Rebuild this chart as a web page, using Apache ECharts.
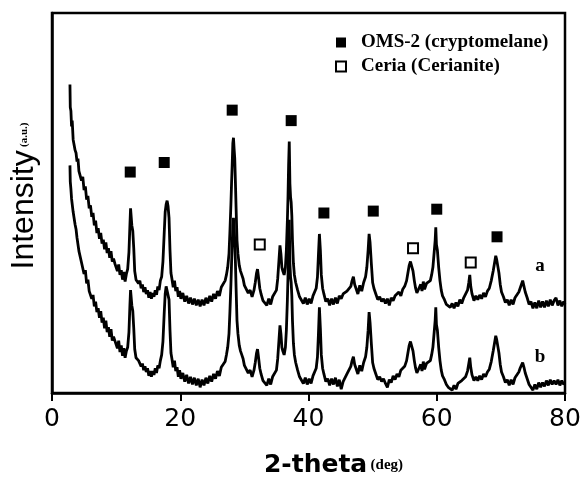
<!DOCTYPE html>
<html>
<head>
<meta charset="utf-8">
<script src="https://cdn.jsdelivr.net/npm/echarts@6/dist/echarts.min.js"></script>
<style>
  html, body { margin: 0; padding: 0; background: #fff; }
  #chart { width: 584px; height: 483px; }
</style>
</head>
<body>
<div id="chart"></div>
<script>
// XRD patterns, 2-theta (deg) vs intensity (a.u.)
const curveA = [
  [2.8,324],[2.85,300],[2.95,296],[3.05,280],[3.15,286],[3.3,266],[3.45,264],[3.6,255],[3.75,252],[3.9,243],
  [4.05,246],[4.2,233],[4.4,235],[4.6,223],[4.8,227],[5.0,213],[5.2,217],[5.4,203],[5.6,207],[5.8,194],
  [6.0,197],[6.2,185],[6.4,189],[6.6,176],[6.8,181],[7.0,168],[7.2,173],[7.4,162],[7.6,168],[7.8,157],
  [8.0,161],[8.2,151],[8.4,158],[8.6,147],[8.8,152],[9.0,142],[9.2,149],[9.4,138],[9.6,141],[9.8,136],
  [10.0,137],[10.2,128],[10.4,135],[10.6,124],[10.8,129],[11.0,119],[11.2,127],[11.4,117],[11.6,125],[11.8,130],
  [12.0,148],[12.15,176],[12.25,194],[12.35,192],[12.45,176],[12.6,170],[12.75,152],[12.9,128],[13.1,119],[13.3,121],
  [13.5,115],[13.7,118],[13.9,110],[14.1,114],[14.3,106],[14.5,111],[14.7,104],[14.9,108],[15.1,100],[15.3,106],
  [15.5,99],[15.7,105],[15.9,101],[16.1,108],[16.3,103],[16.5,112],[16.7,108],[16.9,118],[17.1,122],[17.3,138],
  [17.5,168],[17.65,190],[17.8,198],[17.95,202],[18.1,196],[18.25,184],[18.4,150],[18.55,126],[18.7,120],[18.9,111],
  [19.1,118],[19.3,107],[19.5,111],[19.7,101],[19.9,107],[20.1,99],[20.4,105],[20.7,96],[21.0,102],[21.3,94],
  [21.6,100],[21.9,93],[22.2,99],[22.5,92],[22.8,98],[23.1,91],[23.4,98],[23.7,92],[24.0,100],[24.3,94],
  [24.6,102],[24.9,96],[25.2,104],[25.5,99],[25.8,107],[26.1,102],[26.4,111],[26.7,109],[27.0,118],[27.2,124],
  [27.4,132],[27.6,146],[27.75,170],[27.9,198],[28.0,220],[28.1,240],[28.2,262],[28.3,268],[28.4,256],[28.5,246],
  [28.6,222],[28.7,196],[28.85,160],[29.0,146],[29.2,134],[29.4,128],[29.6,124],[29.8,120],[30.0,113],[30.3,114],
  [30.6,105],[30.9,108],[31.2,101],[31.5,108],[31.7,116],[31.9,126],[32.05,130],[32.2,122],[32.4,110],[32.6,104],
  [32.9,97],[33.2,99],[33.5,92],[33.8,99],[34.1,93],[34.4,101],[34.7,99],[35.0,108],[35.2,120],[35.4,140],
  [35.55,155],[35.7,146],[35.85,132],[36.0,128],[36.2,124],[36.4,132],[36.55,150],[36.7,180],[36.8,205],[36.9,240],
  [37.0,264],[37.1,220],[37.2,206],[37.3,200],[37.4,186],[37.5,160],[37.65,136],[37.8,124],[38.0,116],[38.3,108],
  [38.6,101],[38.9,102],[39.2,94],[39.5,100],[39.8,93],[40.1,99],[40.4,94],[40.7,102],[41.0,101],[41.2,110],
  [41.4,122],[41.55,145],[41.7,167],[41.85,150],[42.0,124],[42.2,110],[42.4,104],[42.7,96],[43.0,99],[43.3,92],
  [43.6,99],[43.9,93],[44.2,100],[44.5,94],[44.8,102],[45.1,99],[45.4,104],[45.7,102],[46.0,107],[46.3,105],
  [46.6,112],[46.8,118],[47.0,122],[47.2,114],[47.4,110],[47.7,104],[48.0,113],[48.3,107],[48.6,116],[48.9,122],
  [49.1,132],[49.3,150],[49.45,167],[49.6,158],[49.8,136],[50.0,116],[50.2,110],[50.5,104],[50.8,98],[51.1,101],
  [51.4,96],[51.7,99],[52.0,94],[52.3,99],[52.6,92],[52.9,100],[53.2,97],[53.5,102],[53.8,100],[54.1,106],
  [54.4,102],[54.7,109],[55.0,112],[55.3,118],[55.5,126],[55.7,134],[55.9,138],[56.1,136],[56.3,128],[56.5,118],
  [56.7,110],[56.9,105],[57.1,103],[57.3,111],[57.5,114],[57.7,107],[57.9,117],[58.1,109],[58.4,115],[58.7,117],
  [59.0,118],[59.2,124],[59.4,132],[59.6,148],[59.75,160],[59.85,174],[59.95,156],[60.1,150],[60.3,132],[60.5,118],
  [60.7,108],[60.9,102],[61.2,98],[61.5,93],[61.8,95],[62.1,90],[62.4,94],[62.7,89],[63.0,95],[63.3,91],
  [63.6,98],[63.9,94],[64.2,100],[64.5,102],[64.8,108],[65.0,116],[65.15,124],[65.3,112],[65.5,104],[65.8,97],
  [66.1,102],[66.4,98],[66.7,103],[67.0,99],[67.3,105],[67.6,101],[67.9,107],[68.2,110],[68.5,118],[68.8,128],
  [69.0,136],[69.2,144],[69.35,140],[69.5,134],[69.7,126],[69.9,114],[70.1,106],[70.4,101],[70.7,95],[71.0,98],
  [71.3,92],[71.6,98],[71.9,93],[72.2,100],[72.5,102],[72.8,106],[73.0,110],[73.2,114],[73.4,118],[73.6,112],
  [73.8,106],[74.1,100],[74.4,93],[74.7,96],[75.0,89],[75.3,95],[75.6,89],[75.9,97],[76.2,90],[76.5,96],
  [76.8,90],[77.1,97],[77.4,91],[77.7,98],[78.0,92],[78.3,97],[78.6,100],[78.9,92],[79.2,97],[79.5,91],
  [79.8,96],[80.0,93]
];

const curveB = [
  [2.8,239],[2.85,222],[2.95,214],[3.05,204],[3.15,206],[3.3,190],[3.45,188],[3.6,177],[3.75,172],[3.9,163],
  [4.05,163],[4.2,149],[4.4,151],[4.6,137],[4.8,139],[5.0,125],[5.2,129],[5.4,115],[5.6,119],[5.8,107],
  [6.0,109],[6.2,99],[6.4,103],[6.6,91],[6.8,96],[7.0,85],[7.2,89],[7.4,79],[7.6,86],[7.8,74],
  [8.0,79],[8.2,68],[8.4,76],[8.6,64],[8.8,69],[9.0,59],[9.2,67],[9.4,55],[9.6,59],[9.8,55],
  [10.0,55],[10.2,47],[10.4,55],[10.6,43],[10.8,50],[11.0,39],[11.2,47],[11.4,37],[11.6,44],[11.8,48],
  [12.0,64],[12.15,92],[12.25,108],[12.35,106],[12.45,92],[12.6,86],[12.75,68],[12.9,46],[13.1,37],[13.3,39],
  [13.5,34],[13.7,34],[13.9,28],[14.1,31],[14.3,24],[14.5,28],[14.7,22],[14.9,26],[15.1,18],[15.3,23],
  [15.5,17],[15.7,23],[15.9,19],[16.1,26],[16.3,21],[16.5,29],[16.7,26],[16.9,34],[17.1,40],[17.3,54],
  [17.5,84],[17.65,104],[17.8,112],[17.95,114],[18.1,110],[18.25,98],[18.4,66],[18.55,42],[18.7,36],[18.9,27],
  [19.1,34],[19.3,23],[19.5,27],[19.7,17],[19.9,24],[20.1,15],[20.4,21],[20.7,12],[21.0,19],[21.3,10],
  [21.6,17],[21.9,9],[22.2,16],[22.5,8],[22.8,15],[23.1,6],[23.4,14],[23.7,8],[24.0,16],[24.3,10],
  [24.6,18],[24.9,12],[25.2,20],[25.5,15],[25.8,23],[26.1,18],[26.4,27],[26.7,26],[27.0,33],[27.2,40],
  [27.4,48],[27.6,62],[27.75,86],[27.9,114],[28.0,136],[28.1,156],[28.2,176],[28.3,184],[28.4,172],[28.5,160],
  [28.6,138],[28.7,112],[28.85,76],[29.0,62],[29.2,50],[29.4,44],[29.6,40],[29.8,36],[30.0,29],[30.3,30],
  [30.6,21],[30.9,24],[31.2,17],[31.5,24],[31.7,32],[31.9,42],[32.05,46],[32.2,38],[32.4,26],[32.6,20],
  [32.9,13],[33.2,15],[33.5,8],[33.8,15],[34.1,9],[34.4,17],[34.7,16],[35.0,24],[35.2,36],[35.4,56],
  [35.55,71],[35.7,62],[35.85,48],[36.0,44],[36.2,40],[36.4,48],[36.55,66],[36.7,96],[36.8,122],[36.9,156],
  [37.0,182],[37.1,136],[37.2,122],[37.3,116],[37.4,102],[37.5,76],[37.65,52],[37.8,40],[38.0,32],[38.3,24],
  [38.6,17],[38.9,18],[39.2,10],[39.5,16],[39.8,9],[40.1,15],[40.4,10],[40.7,18],[41.0,18],[41.2,26],
  [41.4,38],[41.55,62],[41.7,90],[41.85,68],[42.0,40],[42.2,26],[42.4,20],[42.7,12],[43.0,15],[43.3,8],
  [43.6,15],[43.9,9],[44.2,16],[44.5,7],[44.8,14],[45.1,4],[45.4,12],[45.7,13],[46.0,20],[46.3,20],
  [46.6,28],[46.8,34],[47.0,38],[47.2,30],[47.4,26],[47.7,20],[48.0,29],[48.3,23],[48.6,32],[48.9,38],
  [49.1,48],[49.3,66],[49.45,85],[49.6,74],[49.8,52],[50.0,32],[50.2,26],[50.5,20],[50.8,14],[51.1,17],
  [51.4,12],[51.7,15],[52.0,10],[52.3,6],[52.6,14],[52.9,11],[53.2,18],[53.5,14],[53.8,20],[54.1,17],
  [54.4,24],[54.7,22],[55.0,28],[55.3,34],[55.5,42],[55.7,50],[55.9,54],[56.1,52],[56.3,44],[56.5,34],
  [56.7,26],[56.9,21],[57.1,19],[57.3,27],[57.5,30],[57.7,23],[57.9,33],[58.1,25],[58.4,31],[58.7,33],
  [59.0,34],[59.2,40],[59.4,48],[59.6,64],[59.75,76],[59.85,90],[59.95,72],[60.1,66],[60.3,48],[60.5,34],
  [60.7,24],[60.9,18],[61.2,14],[61.5,9],[61.8,6],[62.1,8],[62.4,3],[62.7,8],[63.0,4],[63.3,10],
  [63.6,8],[63.9,13],[64.2,11],[64.5,17],[64.8,23],[65.0,31],[65.15,37],[65.3,27],[65.5,19],[65.8,13],
  [66.1,17],[66.4,13],[66.7,18],[67.0,14],[67.3,20],[67.6,17],[67.9,22],[68.2,25],[68.5,33],[68.8,44],
  [69.0,52],[69.2,60],[69.35,56],[69.5,50],[69.7,42],[69.9,30],[70.1,22],[70.4,17],[70.7,11],[71.0,14],
  [71.3,8],[71.6,14],[71.9,9],[72.2,16],[72.5,18],[72.8,22],[73.0,26],[73.2,29],[73.4,32],[73.6,27],
  [73.8,21],[74.1,15],[74.4,9],[74.7,11],[75.0,3],[75.3,9],[75.6,4],[75.9,11],[76.2,6],[76.5,11],
  [76.8,7],[77.1,13],[77.4,8],[77.7,14],[78.0,9],[78.3,13],[78.6,9],[78.9,14],[79.2,8],[79.5,13],
  [79.8,9],[80.0,11]
];

// phase markers above the peaks of curve a
const omsX = [12.2, 17.5, 28.1, 37.3, 42.4, 50.1, 60.0, 69.4];
const omsY = [232, 242, 297, 286, 189, 191, 193, 164];
const ceriaX = [32.4, 56.3, 65.3];
const ceriaY = [156, 152, 137];

const xTicks = [0, 20, 40, 60, 80];
const seriesNames = ['OMS-2 (cryptomelane)', 'Ceria (Cerianite)'];

const zip = (xs, ys) => xs.map((x, i) => [x, ys[i]]);

const chart = echarts.init(document.getElementById('chart'), null, { renderer: 'canvas' });

const option = {
  animation: false,
  backgroundColor: '#fff',
  grid: {
    left: 52, right: 19, top: 13, bottom: 71,
    show: true, borderColor: '#000', borderWidth: 2.5
  },
  legend: {
    data: seriesNames,
    orient: 'vertical',
    left: 330, top: 28,
    itemWidth: 10, itemHeight: 10, itemGap: 5,
    selectedMode: false,
    textStyle: {
      fontFamily: 'Liberation Serif', fontWeight: 'bold', fontSize: 19, color: '#000',
      padding: [0, 0, 0, 10]
    }
  },
  xAxis: {
    type: 'value',
    min: xTicks[0], max: xTicks[xTicks.length - 1], interval: 20,
    axisLine: { onZero: false, lineStyle: { color: '#000', width: 2.5 } },
    axisTick: { inside: false, length: 8, lineStyle: { color: '#000', width: 2 } },
    axisLabel: { margin: 14, color: '#000', fontFamily: 'DejaVu Sans', fontSize: 25 },
    splitLine: { show: false },
    name: '{big|2-theta} {small|(deg)}',
    nameLocation: 'middle',
    nameGap: 60,
    nameTextStyle: {
      padding: [0, 0, 0, 50],
      rich: {
        big: { fontFamily: 'DejaVu Sans', fontWeight: 'bold', fontSize: 25, color: '#000' },
        small: { fontFamily: 'Liberation Serif', fontWeight: 'bold', fontSize: 15, color: '#000' }
      }
    }
  },
  yAxis: {
    type: 'value',
    min: 0, max: 399,
    axisLine: { show: true, lineStyle: { color: '#000', width: 2.5 } },
    axisTick: { show: false },
    axisLabel: { show: false },
    splitLine: { show: false }
  },
  graphic: [
    {
      type: 'text', x: 24, y: 196, rotation: Math.PI / 2,
      style: {
        text: '{big|Intensity} {small|(a.u.)}',
        align: 'center', verticalAlign: 'middle',
        rich: {
          big: { fontFamily: 'Liberation Sans', fontSize: 32, fill: '#000' },
          small: { fontFamily: 'Liberation Serif', fontWeight: 'bold', fontSize: 11, fill: '#000' }
        }
      }
    },
    {
      type: 'text', x: 540, y: 266,
      style: { text: 'a', fontFamily: 'Liberation Serif', fontWeight: 'bold', fontSize: 19, fill: '#000', align: 'center', verticalAlign: 'middle' }
    },
    {
      type: 'text', x: 540, y: 357,
      style: { text: 'b', fontFamily: 'Liberation Serif', fontWeight: 'bold', fontSize: 19, fill: '#000', align: 'center', verticalAlign: 'middle' }
    }
  ],
  series: [
    {
      name: 'a', type: 'line', data: curveA, showSymbol: false,
      lineStyle: { color: '#000', width: 2.8 }, z: 3
    },
    {
      name: 'b', type: 'line', data: curveB, showSymbol: false,
      lineStyle: { color: '#000', width: 2.8 }, z: 3
    },
    {
      name: seriesNames[0], type: 'scatter', data: zip(omsX, omsY),
      symbol: 'rect', symbolSize: 11,
      itemStyle: { color: '#000', opacity: 1 }, z: 4
    },
    {
      name: seriesNames[1], type: 'scatter', data: zip(ceriaX, ceriaY),
      symbol: 'rect', symbolSize: 10,
      itemStyle: { color: '#fff', borderColor: '#000', borderWidth: 2, opacity: 1 }, z: 4
    }
  ]
};

chart.setOption(option);
window.onresize = function () { chart.resize(); };
</script>
</body>
</html>
